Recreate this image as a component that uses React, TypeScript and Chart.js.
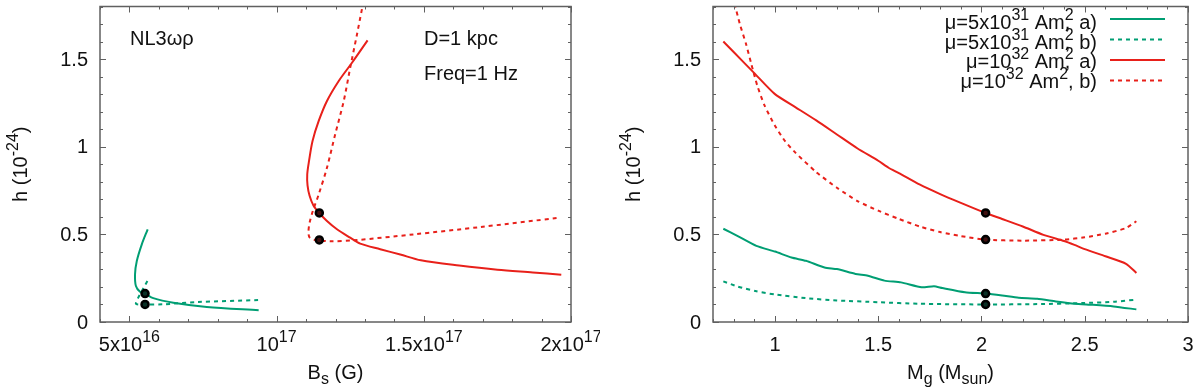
import React, { useEffect, useRef } from 'react';
import { Chart, registerables } from 'chart.js';

Chart.register(...registerables);

const GREEN = '#009e73';
const RED = '#e8201a';
const AXIS = '#606060';
const TEXT = '#111111';
const FONT = '"Liberation Sans", Arial, Helvetica, sans-serif';

// ---------- Left panel: h vs B_s (B_s in units of 1e16 G) ----------
const leftRedA_B = [13.09, 12.56, 12.11, 11.71, 11.43, 11.22, 11.1, 11.04, 11.05, 11.12, 11.25, 11.45, 11.71, 12.05, 12.5, 12.84, 13.52, 14.2, 14.9, 16.2, 17.5, 18.7, 19.67];
const leftRedA_h = [1.607, 1.479, 1.375, 1.261, 1.147, 1.033, 0.918, 0.843, 0.78, 0.72, 0.665, 0.622, 0.576, 0.529, 0.481, 0.447, 0.415, 0.385, 0.352, 0.322, 0.298, 0.283, 0.27];
const leftRedB_B = [12.95, 12.73, 12.5, 12.28, 11.99, 11.71, 11.43, 11.23, 11.12, 11.08, 11.12, 11.25, 11.45, 11.82, 12.62, 14.66, 16.93, 19.59];
const leftRedB_h = [1.83, 1.641, 1.451, 1.261, 1.071, 0.88, 0.728, 0.633, 0.566, 0.51, 0.482, 0.47, 0.466, 0.46, 0.466, 0.5, 0.542, 0.595];
const leftGreenA_B = [5.62, 5.42, 5.25, 5.19, 5.22, 5.36, 5.53, 5.81, 6.49, 7.63, 9.39];
const leftGreenA_h = [0.529, 0.443, 0.348, 0.272, 0.205, 0.172, 0.162, 0.136, 0.11, 0.086, 0.067];
const leftGreenB_B = [5.61, 5.45, 5.3, 5.22, 5.35, 5.53, 6.15, 7.29, 9.39];
const leftGreenB_h = [0.234, 0.185, 0.139, 0.104, 0.099, 0.1, 0.101, 0.114, 0.125];
const leftDots_B = [11.45, 11.45, 5.53, 5.53];
const leftDots_h = [0.622, 0.468, 0.162, 0.1];

// ---------- Right panel: h vs M_g ----------
const rightRedA_M = [0.75, 0.8, 0.9, 1.0, 1.1, 1.2, 1.3, 1.4, 1.5, 1.55, 1.6, 1.7, 1.8, 1.9, 2.02, 2.1, 2.2, 2.3, 2.4, 2.45, 2.5, 2.6, 2.7, 2.75];
const rightRedA_h = [1.6, 1.54, 1.42, 1.3, 1.225, 1.15, 1.07, 0.99, 0.92, 0.88, 0.85, 0.785, 0.73, 0.68, 0.622, 0.588, 0.545, 0.497, 0.462, 0.44, 0.416, 0.375, 0.332, 0.28];
const rightRedB_M = [0.795, 0.83, 0.859, 0.886, 0.914, 0.95, 1.0, 1.05, 1.1, 1.2, 1.3, 1.4, 1.5, 1.6, 1.7, 1.8, 1.9, 2.02, 2.2, 2.4, 2.5, 2.6, 2.7, 2.75];
const rightRedB_h = [1.86, 1.7, 1.59, 1.47, 1.35, 1.234, 1.12, 1.03, 0.965, 0.855, 0.766, 0.69, 0.635, 0.588, 0.545, 0.513, 0.49, 0.47, 0.464, 0.47, 0.483, 0.504, 0.536, 0.575];
const rightGreenA_M = [0.75, 0.82, 0.91, 1.0, 1.08, 1.15, 1.24, 1.3, 1.39, 1.45, 1.53, 1.61, 1.71, 1.77, 1.81, 1.92, 2.02, 2.1, 2.18, 2.27, 2.36, 2.45, 2.54, 2.64, 2.75];
const rightGreenA_h = [0.532, 0.49, 0.434, 0.402, 0.368, 0.349, 0.311, 0.302, 0.274, 0.264, 0.236, 0.226, 0.198, 0.204, 0.194, 0.17, 0.162, 0.151, 0.138, 0.132, 0.117, 0.104, 0.098, 0.089, 0.072];
const rightGreenB_M = [0.75, 0.82, 0.91, 1.0, 1.15, 1.3, 1.5, 1.7, 2.02, 2.27, 2.49, 2.64, 2.75];
const rightGreenB_h = [0.232, 0.202, 0.175, 0.157, 0.136, 0.123, 0.113, 0.104, 0.1, 0.102, 0.108, 0.115, 0.128];
const rightDots_M = [2.02, 2.02, 2.02, 2.02];
const rightDots_h = [0.622, 0.47, 0.162, 0.1];

// ---------- Axes / labels ----------
type Seg = { t: string; s?: 'sup' | 'sub'; overlay?: boolean };

const yTicks = [0, 0.5, 1, 1.5];
const yTickLabels = ['0', '0.5', '1', '1.5'];
const leftXTicks = [5, 10, 15, 20];
const leftXTickLabels: Seg[][] = [
  [{ t: '5x10' }, { t: '16', s: 'sup' }],
  [{ t: '10' }, { t: '17', s: 'sup' }],
  [{ t: '1.5x10' }, { t: '17', s: 'sup' }],
  [{ t: '2x10' }, { t: '17', s: 'sup' }],
];
const rightXTicks = [1, 1.5, 2, 2.5, 3];
const rightXTickLabels: Seg[][] = [[{ t: '1' }], [{ t: '1.5' }], [{ t: '2' }], [{ t: '2.5' }], [{ t: '3' }]];

const yTitle: Seg[] = [{ t: 'h (10' }, { t: '-24', s: 'sup' }, { t: ')' }];
const leftXTitle: Seg[] = [{ t: 'B' }, { t: 's', s: 'sub' }, { t: ' (G)' }];
const rightXTitle: Seg[] = [{ t: 'M' }, { t: 'g', s: 'sub' }, { t: ' (M' }, { t: 'sun', s: 'sub' }, { t: ')' }];

const legendLabels: Seg[][] = [
  [{ t: 'μ=5x10' }, { t: '31', s: 'sup' }, { t: ' Am' }, { t: '2', s: 'sup' }, { t: ',', overlay: true }, { t: ' a)' }],
  [{ t: 'μ=5x10' }, { t: '31', s: 'sup' }, { t: ' Am' }, { t: '2', s: 'sup' }, { t: ',', overlay: true }, { t: ' b)' }],
  [{ t: 'μ=10' }, { t: '32', s: 'sup' }, { t: ' Am' }, { t: '2', s: 'sup' }, { t: ',', overlay: true }, { t: ' a)' }],
  [{ t: 'μ=10' }, { t: '32', s: 'sup' }, { t: ' Am' }, { t: '2', s: 'sup' }, { t: ', b)' }],
];
const legendColors = [GREEN, GREEN, RED, RED];
const legendDashed = [false, true, false, true];

const zip = (xs: number[], ys: number[]) => xs.map((x, i) => ({ x, y: ys[i] }));

function segFont(s: Seg) {
  return s.s ? `16px ${FONT}` : `20px ${FONT}`;
}
function measureSegs(ctx: CanvasRenderingContext2D, segs: Seg[]) {
  let w = 0, prevStart = 0, prevW = 0;
  for (const s of segs) {
    ctx.font = segFont(s);
    const sw = ctx.measureText(s.t).width;
    if (s.overlay) {
      const ext = Math.max(prevW, sw);
      w = prevStart + ext;
      prevW = ext;
    } else {
      prevStart = w;
      prevW = sw;
      w += sw;
    }
  }
  return w;
}
function drawSegs(ctx: CanvasRenderingContext2D, segs: Seg[], x: number, y: number, align: 'left' | 'center' | 'right') {
  const total = measureSegs(ctx, segs);
  const x0 = align === 'left' ? x : align === 'center' ? x - total / 2 : x - total;
  let w = 0, prevStart = 0, prevW = 0;
  ctx.textAlign = 'left';
  ctx.textBaseline = 'alphabetic';
  for (const s of segs) {
    ctx.font = segFont(s);
    const sw = ctx.measureText(s.t).width;
    const dy = s.s === 'sup' ? -9 : s.s === 'sub' ? 5 : 0;
    if (s.overlay) {
      ctx.fillText(s.t, x0 + prevStart, y + dy);
      const ext = Math.max(prevW, sw);
      w = prevStart + ext;
      prevW = ext;
    } else {
      ctx.fillText(s.t, x0 + w, y + dy);
      prevStart = w;
      prevW = sw;
      w += sw;
    }
  }
}

type PanelCfg = {
  xMin: number; xMax: number; xMinor: number;
  xTicks: number[]; xTickLabels: Seg[][];
  xTitle: Seg[]; yTitleX: number;
  notes: { t: string; x: number; y: number }[];
  legend: boolean;
};

function makePlugin(cfg: PanelCfg) {
  return {
    id: 'panelDecor',
    afterDraw(chart: any) {
      const ctx: CanvasRenderingContext2D = chart.ctx;
      const { left, right, top, bottom } = chart.chartArea;
      const xs = chart.scales.x, ys = chart.scales.y;
      ctx.save();
      ctx.strokeStyle = AXIS;
      ctx.lineWidth = 1;
      const vt = (v: number, len: number) => {
        const p = Math.round(xs.getPixelForValue(v)) + 0.5;
        ctx.beginPath();
        ctx.moveTo(p, bottom); ctx.lineTo(p, bottom - len);
        ctx.moveTo(p, top); ctx.lineTo(p, top + len);
        ctx.stroke();
      };
      const ht = (v: number, len: number) => {
        const p = Math.round(ys.getPixelForValue(v)) + 0.5;
        ctx.beginPath();
        ctx.moveTo(left, p); ctx.lineTo(left + len, p);
        ctx.moveTo(right, p); ctx.lineTo(right - len, p);
        ctx.stroke();
      };
      for (let i = 0; ; i++) {
        const v = cfg.xMin + i * cfg.xMinor;
        if (v > cfg.xMax + 1e-9) break;
        vt(v, 3);
      }
      cfg.xTicks.forEach((v) => vt(v, 6));
      for (let i = 0; ; i++) {
        const v = i * 0.1;
        if (v > 1.8 + 1e-9) break;
        ht(v, 3);
      }
      yTicks.forEach((v) => ht(v, 6));
      ctx.lineWidth = 1.5;
      ctx.strokeRect(left, top, right - left, bottom - top);

      ctx.fillStyle = TEXT;
      ctx.font = `20px ${FONT}`;
      ctx.textAlign = 'right';
      ctx.textBaseline = 'middle';
      yTicks.forEach((v, i) => {
        ctx.fillText(yTickLabels[i], left - 12, ys.getPixelForValue(v) + 1);
      });
      cfg.xTicks.forEach((v, i) => {
        drawSegs(ctx, cfg.xTickLabels[i], xs.getPixelForValue(v), 351, 'center');
      });
      drawSegs(ctx, cfg.xTitle, (left + right) / 2, 379, 'center');
      ctx.save();
      ctx.translate(cfg.yTitleX, (top + bottom) / 2);
      ctx.rotate(-Math.PI / 2);
      drawSegs(ctx, yTitle, 0, 0, 'center');
      ctx.restore();
      ctx.font = `20px ${FONT}`;
      ctx.textAlign = 'left';
      ctx.textBaseline = 'alphabetic';
      cfg.notes.forEach((n) => ctx.fillText(n.t, n.x, n.y));
      if (cfg.legend) {
        const sampleY = [19, 39.5, 60, 80.5];
        const baseY = [29, 48.5, 68, 87.5];
        legendLabels.forEach((segs, i) => {
          ctx.fillStyle = TEXT;
          drawSegs(ctx, segs, 497, baseY[i], 'right');
          ctx.strokeStyle = legendColors[i];
          ctx.lineWidth = 2;
          ctx.setLineDash(legendDashed[i] ? [4, 4] : []);
          ctx.beginPath();
          ctx.moveTo(510, sampleY[i]);
          ctx.lineTo(565, sampleY[i]);
          ctx.stroke();
        });
        ctx.setLineDash([]);
      }
      ctx.restore();
    },
  };
}

function lineDs(data: { x: number; y: number }[], color: string, dashed: boolean, tension: number) {
  return {
    data,
    showLine: true,
    borderColor: color,
    backgroundColor: color,
    borderWidth: 2,
    borderDash: dashed ? [4, 4] : [],
    pointRadius: 0,
    tension,
    fill: false,
    order: 1,
  };
}
function dotDs(data: { x: number; y: number }[]) {
  return {
    data,
    showLine: false,
    pointRadius: 3.5,
    pointBorderWidth: 2.5,
    pointBackgroundColor: ['#401010', '#401010', '#0a3026', '#0a3026'],
    pointBorderColor: '#000',
    order: 0,
  };
}

function Panel({ which }: { which: 'left' | 'right' }) {
  const ref = useRef<HTMLCanvasElement>(null);
  useEffect(() => {
    const isLeft = which === 'left';
    const t = isLeft ? 0.3 : 0.2;
    const datasets = isLeft
      ? [
          dotDs(zip(leftDots_B, leftDots_h)),
          lineDs(zip(leftGreenA_B, leftGreenA_h), GREEN, false, t),
          lineDs(zip(leftGreenB_B, leftGreenB_h), GREEN, true, t),
          lineDs(zip(leftRedA_B, leftRedA_h), RED, false, t),
          lineDs(zip(leftRedB_B, leftRedB_h), RED, true, t),
        ]
      : [
          dotDs(zip(rightDots_M, rightDots_h)),
          lineDs(zip(rightGreenA_M, rightGreenA_h), GREEN, false, t),
          lineDs(zip(rightGreenB_M, rightGreenB_h), GREEN, true, t),
          lineDs(zip(rightRedA_M, rightRedA_h), RED, false, t),
          lineDs(zip(rightRedB_M, rightRedB_h), RED, true, t),
        ];
    const cfg: PanelCfg = isLeft
      ? {
          xMin: 4, xMax: 20, xMinor: 1,
          xTicks: leftXTicks, xTickLabels: leftXTickLabels,
          xTitle: leftXTitle, yTitleX: 27,
          notes: [
            { t: 'NL3ωρ', x: 130, y: 45 },
            { t: 'D=1 kpc', x: 424, y: 45 },
            { t: 'Freq=1 Hz', x: 424, y: 80 },
          ],
          legend: false,
        }
      : {
          xMin: 0.7, xMax: 3, xMinor: 0.1,
          xTicks: rightXTicks, xTickLabels: rightXTickLabels,
          xTitle: rightXTitle, yTitleX: 40,
          notes: [],
          legend: true,
        };
    const chart = new Chart(ref.current!, {
      type: 'scatter',
      data: { datasets: datasets as any },
      options: {
        animation: false,
        responsive: false,
        maintainAspectRatio: false,
        events: [],
        layout: {
          padding: isLeft
            ? { left: 100, right: 29, top: 4, bottom: 68 }
            : { left: 113, right: 12, top: 4, bottom: 68 },
        },
        scales: {
          x: { type: 'linear', min: cfg.xMin, max: cfg.xMax, display: false },
          y: { type: 'linear', min: 0, max: 1.8, display: false },
        },
        plugins: { legend: { display: false }, tooltip: { enabled: false } },
      },
      plugins: [makePlugin(cfg)],
    });
    return () => chart.destroy();
  }, [which]);
  return (
    <canvas
      ref={ref}
      width={600}
      height={390}
      style={{ position: 'absolute', top: 0, left: which === 'left' ? 0 : 600, width: 600, height: 390, display: 'block' }}
    />
  );
}

export default function App() {
  return (
    <div style={{ position: 'fixed', left: 0, top: 0, width: 1200, height: 390, background: '#fff', overflow: 'hidden' }}>
      <Panel which="left" />
      <Panel which="right" />
    </div>
  );
}
